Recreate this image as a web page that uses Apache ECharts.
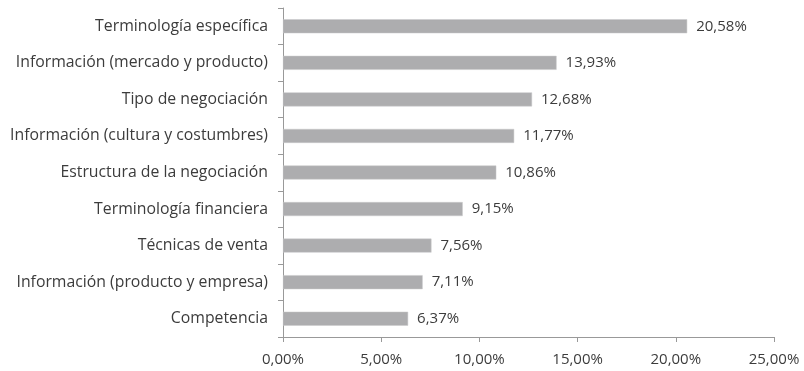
<!DOCTYPE html>
<html>
<head>
<meta charset="utf-8">
<script src="https://cdn.jsdelivr.net/npm/echarts@6/dist/echarts.min.js"></script>
<style>
  html, body { margin: 0; padding: 0; background: #fff; }
  #chart { width: 804px; height: 371px; }
</style>
</head>
<body>
<div id="chart"></div>
<script>
// Categories listed bottom-to-top (category axis runs upward)
const categories = [
  'Competencia',
  'Información (producto y empresa)',
  'Técnicas de venta',
  'Terminología financiera',
  'Estructura de la negociación',
  'Información (cultura y costumbres)',
  'Tipo de negociación',
  'Información (mercado y producto)',
  'Terminología específica'
];
const values = [6.37, 7.11, 7.56, 9.15, 10.86, 11.77, 12.68, 13.93, 20.58];
const xTicks = { min: 0, max: 25, interval: 5 };

const fmt = v => v.toFixed(2).replace('.', ',') + '%';
const fontFamily = '"Open Sans", sans-serif';
const textColor = '#3c3c3c';

const chart = echarts.init(document.getElementById('chart'), null, { renderer: 'canvas' });
chart.setOption({
  animation: false,
  grid: { left: 283, right: 30, top: 8, bottom: 34, containLabel: false },
  xAxis: {
    type: 'value',
    min: xTicks.min, max: xTicks.max, interval: xTicks.interval,
    axisLine: { show: true, lineStyle: { color: '#999999', width: 1 } },
    axisTick: { show: true, length: 5, lineStyle: { color: '#999999' } },
    splitLine: { show: false },
    axisLabel: {
      formatter: fmt, color: textColor, fontFamily, fontSize: 15, margin: 15
    }
  },
  yAxis: {
    type: 'category',
    data: categories,
    axisLine: { show: true, lineStyle: { color: '#999999', width: 1 } },
    axisTick: { show: true, length: 5, lineStyle: { color: '#999999' } },
    axisLabel: { color: textColor, fontFamily, fontSize: 15.8, margin: 15 }
  },
  series: [{
    type: 'bar',
    data: values,
    barWidth: 14,
    itemStyle: { color: '#adadaf', borderColor: '#c8c8ca', borderWidth: 0.5 },
    label: {
      show: true, position: 'right', distance: 9,
      formatter: p => fmt(p.value),
      color: textColor, fontFamily, fontSize: 15
    }
  }]
});
</script>
</body>
</html>
